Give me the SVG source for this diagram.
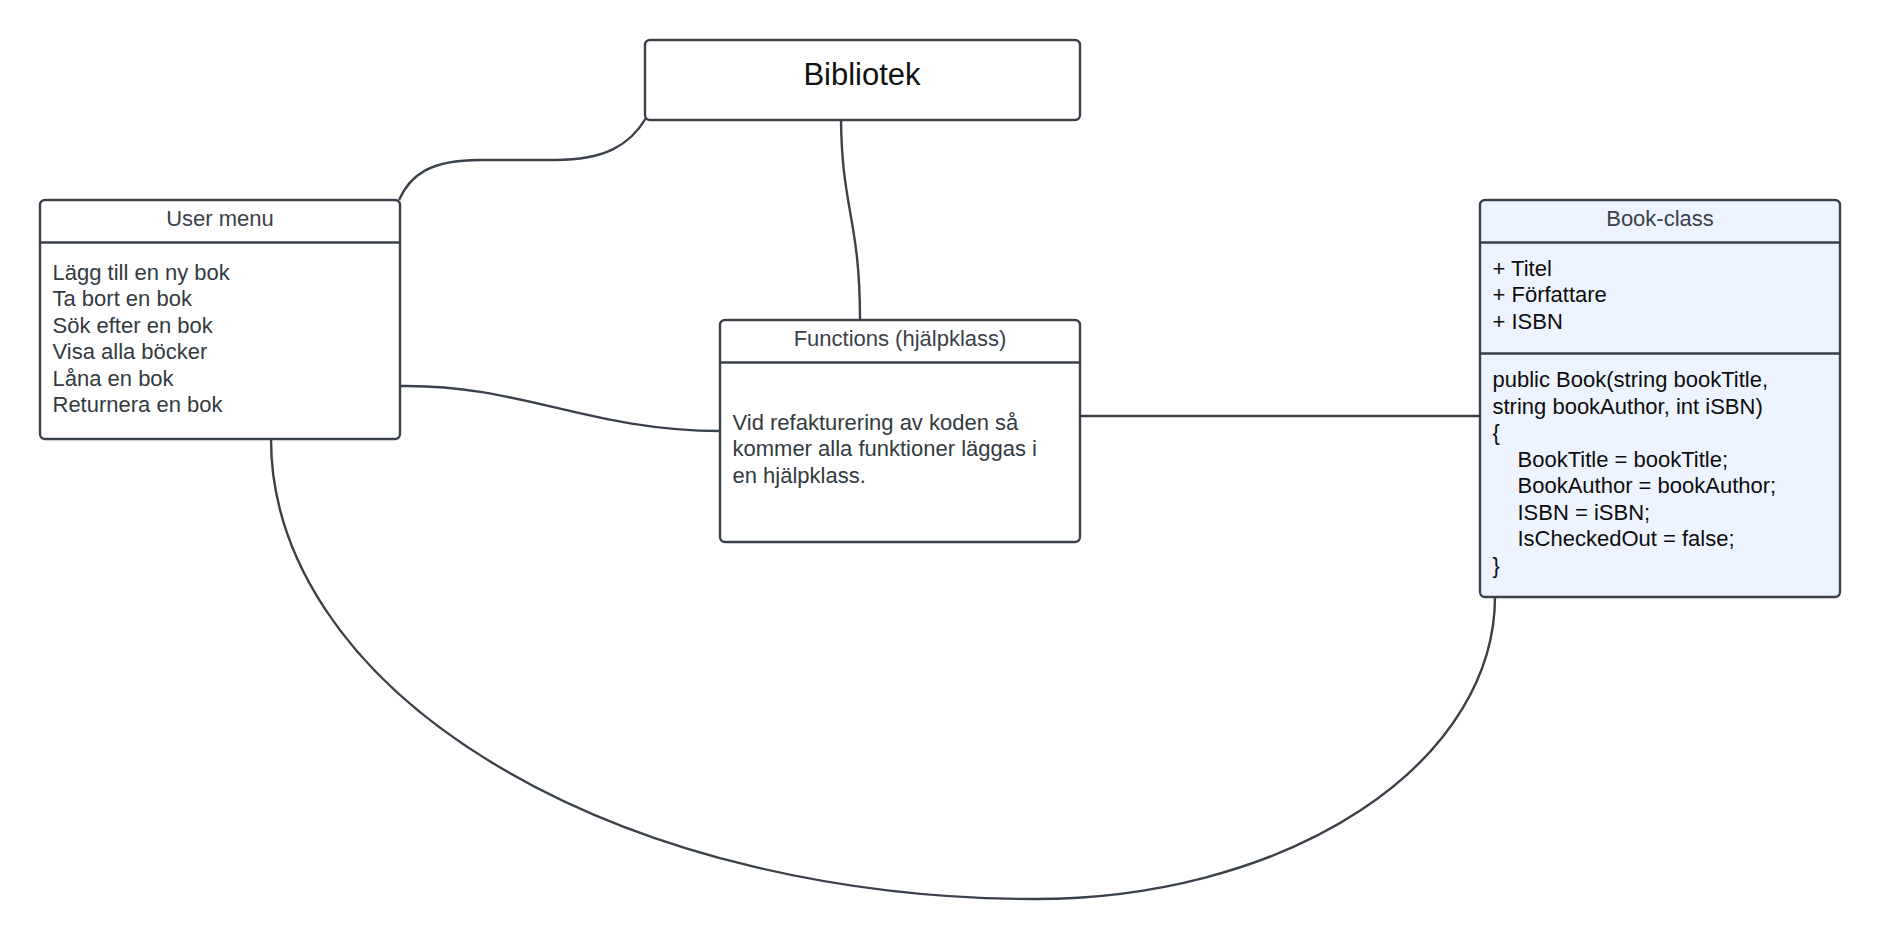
<svg xmlns="http://www.w3.org/2000/svg" width="1880" height="940" viewBox="0 0 1880 940">
<style>
  text { font-family: "Liberation Sans", Arial, sans-serif; font-size: 22px; }
  .box { fill: #ffffff; stroke: #3a414a; stroke-width: 2.4; }
  .blue { fill: #edf4ff; }
  .div { stroke: #3a414a; stroke-width: 2.4; fill: none; }
  .conn { fill: none; stroke: #3a414a; stroke-width: 2.4; }
  .title { fill: #3a414a; text-anchor: middle; }
  .gray { fill: #333a42; }
  .dark { fill: #0d0d0d; }
</style>
<rect x="0" y="0" width="1880" height="940" fill="#ffffff"/>
<g id="connectors">
  <path class="conn" d="M646,118 C 630,145 605,160 555,160 L 480,160 C 430,160 410,175 399,200"/>
  <path class="conn" d="M841,120 C 842,210 860,220 860,320"/>
  <path class="conn" d="M400,386 C 520,384 590,431 720,431"/>
  <path class="conn" d="M1080,416 L1480,416"/>
  <path class="conn" d="M271,439 A764,460 0 0 0 1035,899 A460,302 0 0 0 1495,597"/>
</g>
<g id="bibliotek">
  <rect class="box" x="645" y="40" width="435" height="80" rx="5"/>
  <text x="862" y="85" text-anchor="middle" style="font-size:31px" fill="#111111">Bibliotek</text>
</g>
<g id="user-menu">
  <rect class="box" x="40" y="200" width="360" height="239" rx="5"/>
  <line class="div" x1="40" y1="242.5" x2="400" y2="242.5"/>
  <text class="title" x="220" y="226">User menu</text>
  <text class="gray" x="52.5" y="279.5">Lägg till en ny bok</text>
  <text class="gray" x="52.5" y="306">Ta bort en bok</text>
  <text class="gray" x="52.5" y="332.5">Sök efter en bok</text>
  <text class="gray" x="52.5" y="359">Visa alla böcker</text>
  <text class="gray" x="52.5" y="385.5">Låna en bok</text>
  <text class="gray" x="52.5" y="412">Returnera en bok</text>
</g>
<g id="functions">
  <rect class="box" x="720" y="320" width="360" height="222" rx="5"/>
  <line class="div" x1="720" y1="362.5" x2="1080" y2="362.5"/>
  <text class="title" x="900" y="345.5">Functions (hjälpklass)</text>
  <text class="gray" x="732.5" y="429.5">Vid refakturering av koden så</text>
  <text class="gray" x="732.5" y="456">kommer alla funktioner läggas i</text>
  <text class="gray" x="732.5" y="482.5">en hjälpklass.</text>
</g>
<g id="book-class">
  <rect class="box blue" x="1480" y="200" width="360" height="397" rx="5"/>
  <line class="div" x1="1480" y1="242.5" x2="1840" y2="242.5"/>
  <line class="div" x1="1480" y1="353.5" x2="1840" y2="353.5"/>
  <text class="title" x="1660" y="226">Book-class</text>
  <text class="dark" x="1492.5" y="275.5">+ Titel</text>
  <text class="dark" x="1492.5" y="302">+ Författare</text>
  <text class="dark" x="1492.5" y="328.5">+ ISBN</text>
  <text class="dark" x="1492.5" y="387">public Book(string bookTitle,</text>
  <text class="dark" x="1492.5" y="413.5">string bookAuthor, int iSBN)</text>
  <text class="dark" x="1492.5" y="440">{</text>
  <text class="dark" x="1517.5" y="466.5">BookTitle = bookTitle;</text>
  <text class="dark" x="1517.5" y="493">BookAuthor = bookAuthor;</text>
  <text class="dark" x="1517.5" y="519.5">ISBN = iSBN;</text>
  <text class="dark" x="1517.5" y="546">IsCheckedOut = false;</text>
  <text class="dark" x="1492.5" y="572.5">}</text>
</g>
</svg>
